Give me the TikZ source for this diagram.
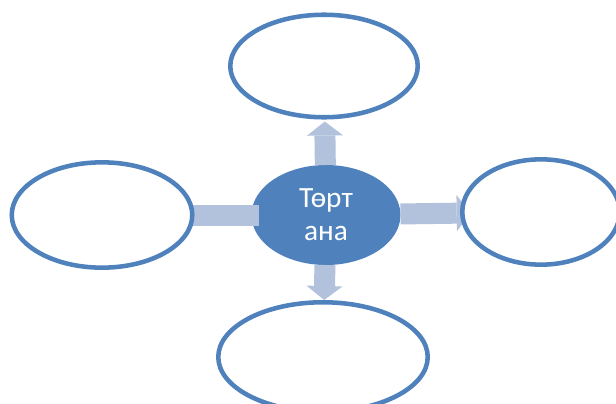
\documentclass[tikz,border=0pt]{standalone}
\usepackage{fontspec}
\setmainfont{Carlito}
\usetikzlibrary{arrows.meta, shapes}
\pgfdeclarelayer{back}
\pgfdeclarelayer{mid}
\pgfsetlayers{back,mid,main}
\definecolor{ringblue}{HTML}{4F81BD}
\definecolor{arrowblue}{HTML}{B3C2DC}

\begin{document}
\begin{tikzpicture}[x=0.75pt,y=-0.75pt,node distance=111.75pt,
    main node/.style={ellipse,fill=ringblue,text=white,inner sep=0pt,outer sep=0pt,minimum width=111.75pt,minimum height=75pt,align=center,font=\fontsize{22}{24.5}\selectfont},
    leaf node/.style={ellipse,draw=ringblue,line width=3.4pt,fill=white,minimum height=79pt},
    block arrow/.style={arrowblue,line width=15.75pt,-{Triangle[width=27pt,length=10.5pt,line width=0pt]}}]
        \useasboundingbox (0,0) rectangle (616,403);
        \begin{pgfonlayer}{back}
        \node[main node] (0) at (326,215) {Төрт\\ана};
        \end{pgfonlayer}
        \node[leaf node,minimum width=140.6pt,minimum height=76.9pt] (1) [above of=0,xshift=-1.5pt] {};
        \node[leaf node,minimum width=135.4pt] (2) [left of=0,node distance=168pt] {};
        \node[leaf node,minimum width=118.1pt] (3) [right of=0,node distance=161.25pt,yshift=2.25pt] {};
        \node[leaf node,minimum width=157.1pt,minimum height=82.1pt] (4) [below of=0,node distance=106.5pt,xshift=-2.25pt] {};

        \begin{pgfonlayer}{mid}
        \path[block arrow]
        (0) edge[shorten >=1.5pt] (1)
        (0) edge[shorten <=-5.5pt,shorten >=-16pt] (2)
        (0) edge[shorten >=-8pt] (3)
        (0) edge (4);
        \end{pgfonlayer}
    \end{tikzpicture}
\end{document}
